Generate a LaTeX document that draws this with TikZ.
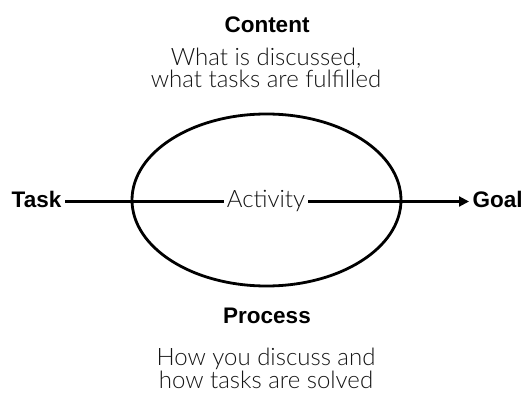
\documentclass[tikz,border=0pt]{standalone}
\usepackage{fontspec}
\setmainfont{Liberation Sans}
\newfontfamily\lightfont{Lato}[UprightFont={* Light}]
\usetikzlibrary{arrows.meta}
\begin{document}
\begin{tikzpicture}[x=1pt,y=1pt,
  heading/.style={font=\fontsize{22.5}{26}\selectfont\bfseries, text=black, inner sep=0pt},
  desc/.style={font=\lightfont\fontsize{24}{22.5}\selectfont, text=black!92, align=center, inner sep=0pt},
  endpoint/.style={font=\fontsize{22.5}{26}\selectfont\bfseries, inner sep=3.5pt},
  flow/.style={line width=2.1pt},
]
\useasboundingbox (0,0) rectangle (523,397);

% the activity as an ellipse
\draw[line width=2.8pt] (266.5,197) ellipse [x radius=134.5, y radius=86];

% headings and their descriptions (base = baseline of the last line)
\node[heading, anchor=base] (content) at (267,364) {Content};
\node[desc, anchor=base] (contentdesc) at (266,309) {What is discussed,\\what tasks are fulfilled};
\node[heading, anchor=base] (process) at (267,74) {Process};
\node[desc, anchor=base] (processdesc) at (266,9) {How you discuss and\\how tasks are solved};

% task -> activity -> goal
\node[endpoint, anchor=base east] (task) at (65,189) {Task};
\node[endpoint, anchor=base west] (goal) at (469,189) {Goal};
\node[desc, anchor=base, inner xsep=3pt] (activity) at (266,189) {Activity};

\draw[flow] (task.east |- 0,195.5) -- (activity.west |- 0,195.5);
\draw[flow, -{Triangle[length=10pt,width=10pt]}] (activity.east |- 0,195.5) -- (goal.west |- 0,195.5);
\end{tikzpicture}
\end{document}
